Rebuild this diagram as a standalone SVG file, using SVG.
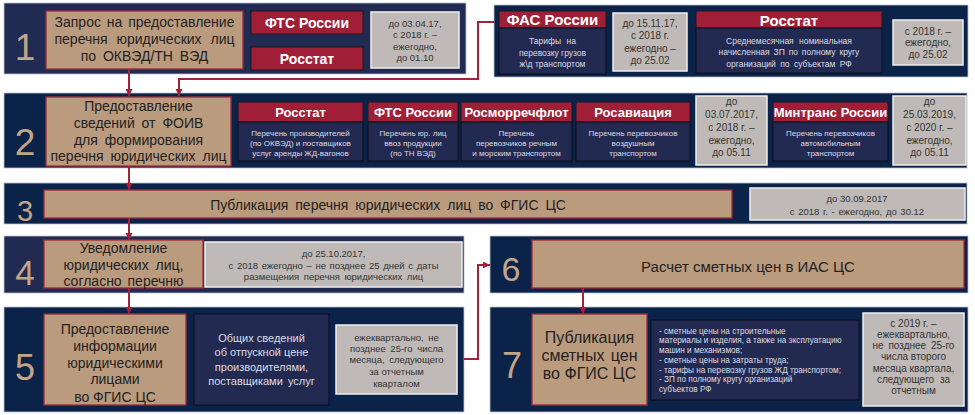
<svg xmlns="http://www.w3.org/2000/svg" width="975" height="415" viewBox="0 0 975 415">
<defs>
<marker id="arr" markerUnits="userSpaceOnUse" markerWidth="8" markerHeight="8" refX="7" refY="3.5" orient="auto">
<path d="M0,0 L7,3.5 L0,7 z" fill="#a3213a"/>
</marker>
</defs>
<style>
text{font-family:"Liberation Sans",Arial,sans-serif}
.b1{fill:#212a51;stroke:#c0c4d0;stroke-width:0.8}
.b2{fill:#0b2348;stroke:#c0c4d0;stroke-width:0.8}
.tan{fill:#bb9b7e;stroke:#a3283a;stroke-width:1.3}
.hdr{fill:#a11f36;stroke:#1a1a24;stroke-width:1}
.body{fill:#232a51;stroke:#0d0d16;stroke-width:1}
.grey{fill:#bfbab7;stroke:#efefef;stroke-width:1.5}
.num{fill:#c3a588;text-anchor:middle}
.tt{fill:#222;font-size:14px;text-anchor:middle}
.ht{fill:#fff;font-weight:bold;text-anchor:middle}
.bt{fill:#dcdce4;font-size:8px;text-anchor:middle}
.gt{fill:#333;font-size:9.5px;text-anchor:middle}
.f82{font-size:8.2px}
.f85{font-size:8.5px}
.f10{font-size:10px}
.f11{font-size:11px}
.f15{font-size:15px}
.f16{font-size:16px}
.lt{text-anchor:start}
.con{fill:none;stroke:#a3213a;stroke-width:2}
</style>

<g id="row1">
<rect class="b1" x="4" y="3" width="462" height="71"/>
<text class="num" x="25" y="60" font-size="37">1</text>
<g id="n1-task"><rect class="tan" x="46" y="11" width="197" height="58"/>
<text class="tt" x="144.5" y="27" word-spacing="2">Запрос на предоставление</text>
<text class="tt" x="144.5" y="44" word-spacing="5">перечня юридических лиц</text>
<text class="tt" x="144.5" y="61" word-spacing="3">по ОКВЭД/ТН ВЭД</text></g>
<g id="n1-fts"><rect class="hdr" x="251" y="11" width="112" height="23"/>
<text class="ht" x="307" y="27.5" font-size="14">ФТС России</text></g>
<g id="n1-rosstat"><rect class="hdr" x="251" y="47" width="112" height="23"/>
<text class="ht" x="307" y="63.5" font-size="14">Росстат</text></g>
<g id="n1-date"><rect class="grey" x="371" y="12" width="88" height="56"/>
<text class="gt" x="415" y="26.5">до 03.04.17,</text>
<text class="gt" x="415" y="38">с 2018 г. –</text>
<text class="gt" x="415" y="49.5">ежегодно,</text>
<text class="gt" x="415" y="61">до 01.10</text></g>
</g>

<g id="row1b">
<rect class="b2" x="494" y="5" width="474" height="72"/>
<g id="n1-fas"><rect class="hdr" x="499" y="11" width="107" height="17"/>
<text class="ht" x="552.5" y="25" font-size="15">ФАС России</text>
<rect class="body" x="499" y="28" width="107" height="46"/>
<text class="bt f85" x="552.5" y="44" word-spacing="3">Тарифы на</text>
<text class="bt f85" x="552.5" y="55.5">перевозку грузов</text>
<text class="bt f85" x="552.5" y="66.5">ж\д транспортом</text></g>
<g id="n1-fas-date"><rect class="grey" x="613" y="13" width="74" height="58"/>
<text class="gt f10" x="650" y="26.5">до 15.11.17,</text>
<text class="gt f10" x="650" y="39">с 2018 г.</text>
<text class="gt f10" x="650" y="51.5">ежегодно –</text>
<text class="gt f10" x="650" y="63.5">до 25.02</text></g>
<g id="n1-rosstat2"><rect class="hdr" x="696" y="11" width="186" height="17"/>
<text class="ht" x="789" y="25.5" font-size="15">Росстат</text>
<rect class="body" x="696" y="28" width="186" height="45"/>
<text class="bt f85" x="789" y="43.5" word-spacing="3">Среднемесячная номинальная</text>
<text class="bt f85" x="789" y="55" word-spacing="1.5">начисленная ЗП по полному кругу</text>
<text class="bt f85" x="789" y="66.5" word-spacing="2">организаций по субъектам РФ</text></g>
<g id="n1-rosstat2-date"><rect class="grey" x="893" y="20" width="70" height="45"/>
<text class="gt f10" x="928" y="34.5">с 2018 г. –</text>
<text class="gt f10" x="928" y="46">ежегодно,</text>
<text class="gt f10" x="928" y="57.5">до 25.02</text></g>
</g>

<g id="row2">
<rect class="b2" x="4" y="93" width="963" height="75"/>
<text class="num" x="25" y="155" font-size="37">2</text>
<g id="n2-task"><rect class="tan" x="46" y="97" width="185" height="69"/>
<text class="tt" x="138.5" y="111">Предоставление</text>
<text class="tt" x="138.5" y="128" word-spacing="3">сведений от ФОИВ</text>
<text class="tt" x="138.5" y="145" word-spacing="3">для формирования</text>
<text class="tt" x="138.5" y="161" word-spacing="3">перечня юридических лиц</text></g>
<g id="n2-rosstat"><rect class="hdr" x="238" y="102" width="125" height="20"/>
<text class="ht" x="300.5" y="117" font-size="13">Росстат</text>
<rect class="body" x="238" y="122" width="125" height="39"/>
<text class="bt" x="300.5" y="136">Перечень производителей</text>
<text class="bt" x="300.5" y="146">(по ОКВЭД) и поставщиков</text>
<text class="bt" x="300.5" y="156">услуг аренды ЖД-вагонов</text></g>
<g id="n2-fts"><rect class="hdr" x="368" y="102" width="90" height="20"/>
<text class="ht" x="413" y="117" font-size="13">ФТС России</text>
<rect class="body" x="368" y="122" width="90" height="39"/>
<text class="bt" x="413" y="136">Перечень юр. лиц</text>
<text class="bt" x="413" y="146">ввоз продукции</text>
<text class="bt" x="413" y="156">(по ТН ВЭД)</text></g>
<g id="n2-rosmor"><rect class="hdr" x="461" y="102" width="111" height="20"/>
<text class="ht" x="516.5" y="117" font-size="13">Росморречфлот</text>
<rect class="body" x="461" y="122" width="111" height="39"/>
<text class="bt" x="516.5" y="136">Перечень</text>
<text class="bt" x="516.5" y="146">перевозчиков речным</text>
<text class="bt" x="516.5" y="156">и морским транспортом</text></g>
<g id="n2-rosav"><rect class="hdr" x="576" y="102" width="114" height="20"/>
<text class="ht" x="633" y="117" font-size="13">Росавиация</text>
<rect class="body" x="576" y="122" width="114" height="39"/>
<text class="bt" x="633" y="136">Перечень перевозчиков</text>
<text class="bt" x="633" y="146">воздушным</text>
<text class="bt" x="633" y="156">транспортом</text></g>
<g id="n2-date1"><rect class="grey" x="696" y="96" width="71" height="69"/>
<text class="gt f10" x="731.5" y="104.5">до</text>
<text class="gt f10" x="731.5" y="117.5">03.07.2017,</text>
<text class="gt f10" x="731.5" y="130.5">с 2018 г. –</text>
<text class="gt f10" x="731.5" y="143.5">ежегодно,</text>
<text class="gt f10" x="731.5" y="156">до 05.11</text></g>
<g id="n2-mintrans"><rect class="hdr" x="773" y="102" width="115" height="20"/>
<text class="ht" x="830.5" y="117" font-size="13">Минтранс России</text>
<rect class="body" x="773" y="122" width="115" height="39"/>
<text class="bt" x="830.5" y="136">Перечень перевозчиков</text>
<text class="bt" x="830.5" y="146">автомобильным</text>
<text class="bt" x="830.5" y="156">транспортом</text></g>
<g id="n2-date2"><rect class="grey" x="893" y="96" width="73" height="69"/>
<text class="gt f10" x="929.5" y="104.5">до</text>
<text class="gt f10" x="929.5" y="117.5">25.03.2019,</text>
<text class="gt f10" x="929.5" y="130.5">с 2020 г. –</text>
<text class="gt f10" x="929.5" y="143.5">ежегодно,</text>
<text class="gt f10" x="929.5" y="156">до 05.11</text></g>
</g>

<g id="row3">
<rect class="b2" x="4" y="183" width="963" height="41"/>
<text class="num" x="25" y="221" font-size="29">3</text>
<g id="n3-task"><rect class="tan" x="44" y="190" width="688" height="28"/>
<text class="tt" x="388" y="210" word-spacing="3">Публикация перечня юридических лиц во ФГИС ЦС</text></g>
<g id="n3-date"><rect class="grey" x="750" y="188" width="215" height="32"/>
<text class="gt" x="857" y="201.5">до 30.09.2017</text>
<text class="gt" x="857" y="214.5" word-spacing="1">с 2018 г. - ежегодно, до 30.12</text></g>
</g>

<g id="row4">
<rect class="b1" x="4" y="236" width="460" height="57"/>
<text class="num" x="25" y="285" font-size="35">4</text>
<g id="n4-task"><rect class="tan" x="44" y="240" width="159" height="48"/>
<text class="tt" x="123.5" y="253">Уведомление</text>
<text class="tt" x="123.5" y="270" word-spacing="3">юридических лиц,</text>
<text class="tt" x="123.5" y="286" word-spacing="2">согласно перечню</text></g>
<g id="n4-date"><rect class="grey" x="205" y="242" width="257" height="45"/>
<text class="gt" x="333.5" y="256.5">до 25.10.2017,</text>
<text class="gt" x="333.5" y="268.5" word-spacing="1">с 2018 ежегодно – не позднее 25 дней с даты</text>
<text class="gt" x="333.5" y="280" word-spacing="2">размещения перечня юридических лиц</text></g>
</g>

<g id="row5">
<rect class="b2" x="4" y="307" width="460" height="105"/>
<text class="num" x="25" y="380" font-size="36">5</text>
<g id="n5-task"><rect class="tan" x="44" y="314" width="142" height="91"/>
<text class="tt" x="115" y="334">Предоставление</text>
<text class="tt" x="115" y="351">информации</text>
<text class="tt" x="115" y="368">юридическими</text>
<text class="tt" x="115" y="384">лицами</text>
<text class="tt" x="115" y="402">во ФГИС ЦС</text></g>
<g id="n5-info"><rect class="body" x="194" y="314" width="135" height="91"/>
<text class="bt f11" x="261.5" y="342">Общих сведений</text>
<text class="bt f11" x="261.5" y="356">об отпускной цене</text>
<text class="bt f11" x="261.5" y="371">производителями,</text>
<text class="bt f11" x="261.5" y="385" word-spacing="2">поставщиками услуг</text></g>
<g id="n5-date"><rect class="grey" x="336" y="325" width="121" height="69"/>
<text class="gt" x="396.5" y="340.5" word-spacing="2">ежеквартально, не</text>
<text class="gt" x="396.5" y="351.5" word-spacing="2">позднее 25-го числа</text>
<text class="gt" x="396.5" y="363" word-spacing="2">месяца, следующего</text>
<text class="gt" x="396.5" y="374.5">за отчетным</text>
<text class="gt" x="396.5" y="386.5">кварталом</text></g>
</g>

<g id="row6">
<rect class="b2" x="490" y="236" width="478" height="57"/>
<text class="num" x="511" y="281" font-size="34">6</text>
<g id="n6-task"><rect class="tan" x="532" y="240" width="432" height="48"/>
<text class="tt f15" x="748" y="272">Расчет сметных цен в ИАС ЦС</text></g>
</g>

<g id="row7">
<rect class="b2" x="490" y="307" width="478" height="105"/>
<text class="num" x="512" y="378" font-size="36">7</text>
<g id="n7-task"><rect class="tan" x="532" y="314" width="115" height="91"/>
<text class="tt f16" x="589.5" y="343">Публикация</text>
<text class="tt f16" x="589.5" y="361" word-spacing="2">сметных цен</text>
<text class="tt f16" x="589.5" y="379">во ФГИС ЦС</text></g>
<g id="n7-list"><rect class="body" x="651" y="320" width="208" height="80"/>
<text class="bt f82 lt" x="659" y="333.5">- сметные цены на строительные</text>
<text class="bt f82 lt" x="659" y="343">материалы и изделия, а также на эксплуатацию</text>
<text class="bt f82 lt" x="659" y="352.5">машин и механизмов;</text>
<text class="bt f82 lt" x="659" y="362.5">- сметные цены на затраты труда;</text>
<text class="bt f82 lt" x="659" y="372.5">- тарифы на перевозку грузов ЖД транспортом;</text>
<text class="bt f82 lt" x="659" y="382">- ЗП по полному кругу организаций</text>
<text class="bt f82 lt" x="659" y="391.5">субъектов РФ</text></g>
<g id="n7-date"><rect class="grey" x="863" y="313" width="101" height="93"/>
<text class="gt f10" x="913.5" y="326.5">с 2019 г. –</text>
<text class="gt f10" x="913.5" y="337.8">ежеквартально,</text>
<text class="gt f10" x="913.5" y="349.1" word-spacing="2">не позднее 25-го</text>
<text class="gt f10" x="913.5" y="360.4">числа второго</text>
<text class="gt f10" x="913.5" y="371.7">месяца квартала,</text>
<text class="gt f10" x="913.5" y="383" word-spacing="3">следующего за</text>
<text class="gt f10" x="913.5" y="394.3">отчетным</text></g>
</g>

<g id="connectors">
<path class="con" d="M129,69 V96" marker-end="url(#arr)"/>
<path class="con" d="M494,22 H478 V79 H179 V96" marker-end="url(#arr)"/>
<path class="con" d="M129,166 V190" marker-end="url(#arr)"/>
<path class="con" d="M129,218 V240" marker-end="url(#arr)"/>
<path class="con" d="M129,288 V314" marker-end="url(#arr)"/>
<path class="con" d="M464,359 H478 V265 H490" marker-end="url(#arr)"/>
<path class="con" d="M583,288 V314" marker-end="url(#arr)"/>
</g>
</svg>
